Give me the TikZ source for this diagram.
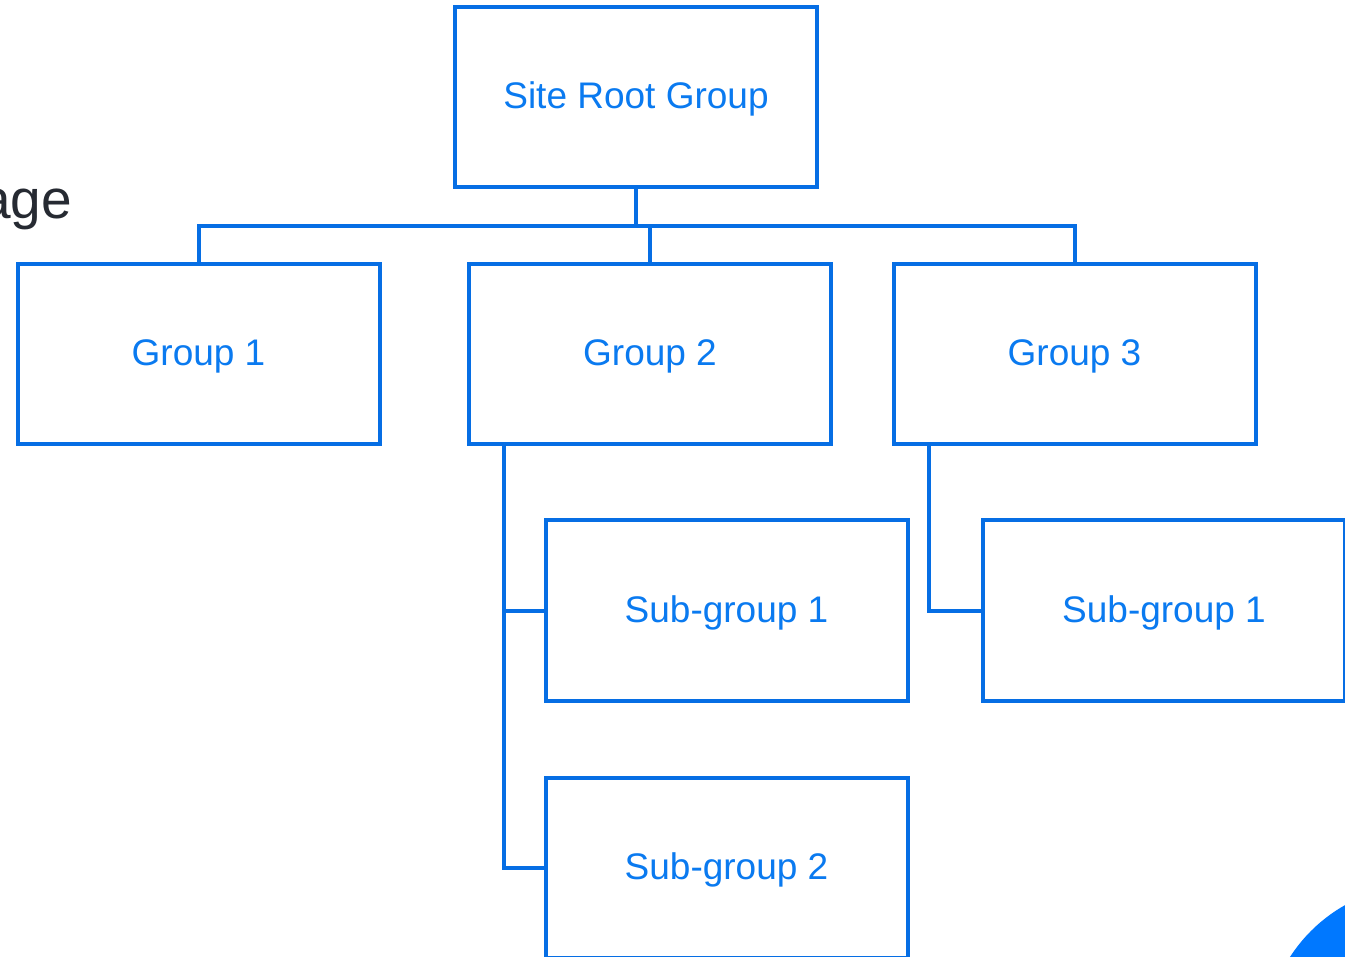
\documentclass[tikz,border=0pt]{standalone}
\usepackage{fontspec}
\setmainfont{Liberation Sans}
\definecolor{lineblue}{RGB}{6,110,228}
\definecolor{textblue}{RGB}{10,122,240}
\definecolor{cornerblue}{RGB}{0,120,255}
\definecolor{darktext}{RGB}{38,42,50}
\tikzset{
  grpbox/.style={draw=lineblue, line width=4pt, rectangle, minimum width=362pt, minimum height=180pt,
    inner sep=0pt, text depth=3pt, text=textblue, font=\fontsize{37}{44}\selectfont},
  conn/.style={draw=lineblue, line width=4pt},
}
\begin{document}
\begin{tikzpicture}[x=1pt,y=-1pt]
\useasboundingbox (0,0) rectangle (1345,957);
\clip (0,0) rectangle (1345,957);
\fill[white] (0,0) rectangle (1345,957);
% corner decoration
\fill[cornerblue] (1422,1042) circle (157);
% page text fragment
\node[anchor=base east, inner sep=0pt, text=darktext, font=\fontsize{55}{60}\selectfont] (frag) at (72,219) {age};
% boxes
\node[grpbox] (root) at (636,97) {Site Root Group};
\node[grpbox] (g1) at (198.5,354) {Group 1};
\node[grpbox] (g2) at (650,354) {Group 2};
\node[grpbox] (g3) at (1074.5,354) {Group 3};
\node[grpbox] (sg1) at (726.5,610.5) {Sub-group 1};
\node[grpbox] (sg2) at (726.5,867.5) {Sub-group 2};
\node[grpbox] (sg3) at (1164,610.5) {Sub-group 1};
% connectors
\coordinate (bar) at (0,226);
\draw[conn] (root.south) -- (root.south |- bar);
\draw[conn] (g1.north) -- (g1.north |- bar) -- (g3.north |- bar) -- (g3.north);
\draw[conn] (g2.north |- bar) -- (g2.north);
\coordinate (s2) at ([xshift=37pt]g2.south west);
\coordinate (s3) at ([xshift=37pt]g3.south west);
\draw[conn] (s2) |- (sg2.west);
\draw[conn] (s2 |- sg1.west) -- (sg1.west);
\draw[conn] (s3) |- (sg3.west);
\end{tikzpicture}
\end{document}
